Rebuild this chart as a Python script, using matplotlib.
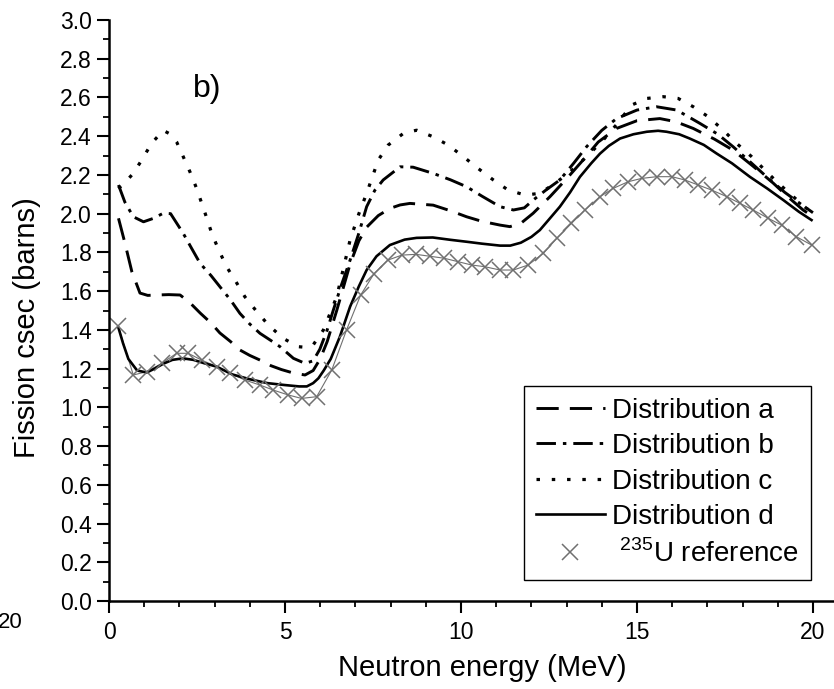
import numpy as np
import matplotlib
matplotlib.use("Agg")
import matplotlib.pyplot as plt
from matplotlib.ticker import MultipleLocator

plt.rcParams['font.family'] = ['Liberation Sans', 'DejaVu Sans']
plt.rcParams['mathtext.fontset'] = 'custom'
plt.rcParams['mathtext.rm'] = 'Liberation Sans'
plt.rcParams['lines.scale_dashes'] = False

# curves (energy in MeV, cross section in barns)
x_a = [0.27, 0.45, 0.65, 0.88, 1.1, 1.35, 1.7, 2.02, 2.3, 2.59, 2.9, 3.15, 3.45, 3.72,
       4.0, 4.29, 4.6, 4.9, 5.24, 5.57, 5.8, 6.0, 6.2, 6.47, 6.85, 7.1, 7.32, 7.65, 7.98,
       8.27, 8.55, 9.21, 9.7, 10.16, 10.6, 11.11, 11.39, 11.7, 12.05, 12.53, 13.0, 13.47,
       13.9, 14.42, 15.0, 15.65, 16.1, 16.6, 17.2, 17.73, 18.3, 18.87, 19.3, 19.72, 20.0]
y_a = [1.976, 1.85, 1.70, 1.59, 1.578, 1.58, 1.582, 1.58, 1.54, 1.487, 1.435, 1.384, 1.34, 1.296,
       1.268, 1.244, 1.215, 1.195, 1.177, 1.167, 1.19, 1.25, 1.34, 1.50, 1.74, 1.86, 1.93, 1.99, 2.027,
       2.045, 2.053, 2.044, 2.015, 1.984, 1.96, 1.941, 1.933, 1.95, 2.002, 2.088, 2.18, 2.277,
       2.37, 2.44, 2.48, 2.491, 2.475, 2.44, 2.385, 2.328, 2.245, 2.158, 2.085, 2.019, 1.985]

x_b = [0.27, 0.45, 0.69, 0.98, 1.25, 1.54, 1.75, 2.11, 2.35, 2.59, 2.9, 3.15, 3.45, 3.72,
       4.0, 4.29, 4.6, 4.86, 5.24, 5.57, 5.8, 5.99, 6.2, 6.37, 6.6, 6.85, 7.1, 7.32, 7.55,
       7.79, 8.27, 8.64, 9.21, 9.7, 10.16, 10.6, 11.11, 11.49, 11.8, 12.05, 12.4, 12.81,
       13.2, 13.57, 14.0, 14.42, 15.0, 15.56, 16.13, 16.79, 17.3, 17.73, 18.2, 18.68, 19.2,
       19.63, 20.0]
y_b = [2.148, 2.06, 1.984, 1.958, 1.975, 2.002, 2.0, 1.898, 1.82, 1.743, 1.68, 1.623, 1.555, 1.485,
       1.43, 1.382, 1.345, 1.313, 1.253, 1.227, 1.24, 1.30, 1.40, 1.50, 1.63, 1.76, 1.90, 2.036, 2.12,
       2.174, 2.242, 2.24, 2.208, 2.175, 2.139, 2.09, 2.036, 2.019, 2.03, 2.07, 2.12, 2.174,
       2.26, 2.346, 2.43, 2.491, 2.535, 2.552, 2.535, 2.466, 2.41, 2.346, 2.27, 2.191, 2.11,
       2.053, 2.005]

x_c = [0.27, 0.45, 0.69, 0.93, 1.21, 1.54, 1.75, 1.92, 2.11, 2.30, 2.49, 2.78, 2.92, 3.1,
       3.34, 3.58, 3.86, 4.20, 4.53, 4.95, 5.38, 5.6, 5.80, 6.09, 6.28, 6.47, 6.85, 7.1, 7.32,
       7.65, 7.93, 8.36, 8.74, 9.21, 9.64, 10.07, 10.49, 10.92, 11.34, 11.82, 12.24, 12.67,
       13.10, 13.57, 14.04, 14.42, 14.85, 15.28, 15.75, 16.17, 16.60, 17.03, 17.45, 17.83,
       18.26, 18.59, 18.97, 19.39, 19.82, 20.0]
y_c = [2.13, 2.16, 2.208, 2.277, 2.363, 2.43, 2.41, 2.371, 2.294, 2.216, 2.130, 1.976, 1.898, 1.82,
       1.726, 1.657, 1.571, 1.494, 1.425, 1.356, 1.313, 1.31, 1.322, 1.399, 1.485, 1.571, 1.864, 2.0, 2.105,
       2.277, 2.354, 2.414, 2.431, 2.397, 2.354, 2.294, 2.233, 2.174, 2.122, 2.096, 2.105, 2.156,
       2.216, 2.294, 2.380, 2.46, 2.561, 2.595, 2.604, 2.595, 2.552, 2.500, 2.431, 2.363,
       2.294, 2.233, 2.165, 2.096, 2.027, 2.0]

x_d = [0.27, 0.4, 0.55, 0.8, 1.07, 1.3, 1.54, 1.8, 2.1, 2.4, 2.7, 3.06, 3.5, 4.0, 4.5, 5.0,
       5.4, 5.62, 5.8, 5.95, 6.1, 6.3, 6.56, 6.85, 7.1, 7.32, 7.6, 7.98, 8.4, 8.74, 9.2, 9.7,
       10.16, 10.6, 11.11, 11.4, 11.7, 12.0, 12.24, 12.5, 12.81, 13.1, 13.38, 13.7, 13.95,
       14.2, 14.52, 14.9, 15.28, 15.6, 15.84, 16.2, 16.5, 16.9, 17.26, 17.7, 18.21, 18.7,
       19.16, 19.6, 19.96]
y_d = [1.41, 1.33, 1.25, 1.19, 1.18, 1.20, 1.225, 1.245, 1.253, 1.245, 1.228, 1.21, 1.17, 1.145,
       1.125, 1.115, 1.108, 1.108, 1.125, 1.15, 1.19, 1.25, 1.365, 1.52, 1.625, 1.709, 1.78, 1.838,
       1.866, 1.875, 1.877, 1.865, 1.855, 1.845, 1.835, 1.835, 1.85, 1.88, 1.915, 1.97, 2.036,
       2.11, 2.19, 2.26, 2.31, 2.35, 2.388, 2.41, 2.423, 2.428, 2.423, 2.41, 2.388, 2.355,
       2.311, 2.26, 2.19, 2.13, 2.07, 2.01, 1.967]

# 235U reference points
x_ref = [0.26, 0.69, 1.07, 1.50, 1.92, 2.25, 2.63, 3.06, 3.44, 3.86, 4.29, 4.67, 5.09, 5.47,
         5.90, 6.33, 6.75, 7.15, 7.53, 7.92, 8.32, 8.72, 9.12, 9.52, 9.92, 10.30, 10.68,
         11.11, 11.49, 11.91, 12.34, 12.72, 13.14, 13.52, 13.95, 14.33, 14.75, 15.13, 15.56,
         15.99, 16.36, 16.74, 17.12, 17.55, 17.93, 18.30, 18.73, 19.11, 19.53, 19.96]
y_ref = [1.42, 1.167, 1.184, 1.227, 1.279, 1.279, 1.244, 1.210, 1.176, 1.141, 1.115, 1.089,
         1.064, 1.046, 1.055, 1.193, 1.40, 1.58, 1.69, 1.76, 1.786, 1.79, 1.78, 1.77, 1.752,
         1.735, 1.726, 1.709, 1.709, 1.735, 1.795, 1.872, 1.950, 2.019, 2.088, 2.131, 2.165,
         2.182, 2.191, 2.191, 2.174, 2.148, 2.122, 2.088, 2.053, 2.019, 1.976, 1.941, 1.881,
         1.838]

fig = plt.figure(figsize=(8.34, 6.89), dpi=100)
ax = fig.add_axes([109/834, 88/689, 724/834, 581/689])

ax.plot(x_ref, y_ref, color='#707070', lw=0.8, zorder=1)
ax.plot(x_a, y_a, color='black', lw=2.1, dashes=[16, 8], label='Distribution a')
ax.plot(x_b, y_b, color='black', lw=2.1, dashes=[14, 5, 2.5, 5], label='Distribution b')
ax.plot(x_c, y_c, color='black', lw=2.3, dashes=[2.5, 8.5], label='Distribution c')
ax.plot(x_d, y_d, color='black', lw=1.9, label='Distribution d')
ax.plot(x_ref, y_ref, ls='none', marker='x', ms=11, mew=1.1, color='#707070',
        label=' $^{235}$U reference', zorder=2)

ax.set_xlim(0, 20.57)
ax.set_ylim(0, 3.0)
ax.spines['top'].set_visible(False)
ax.spines['right'].set_visible(False)
for s in ('left', 'bottom'):
    ax.spines[s].set_linewidth(1.8)

ax.xaxis.set_major_locator(MultipleLocator(5))
ax.xaxis.set_minor_locator(MultipleLocator(1))
ax.yaxis.set_major_locator(MultipleLocator(0.2))
ax.yaxis.set_minor_locator(MultipleLocator(0.1))
ax.yaxis.set_major_formatter(matplotlib.ticker.FormatStrFormatter('%.1f'))
ax.tick_params(which='major', direction='out', length=8.5, width=1.5, labelsize=16.5)
ax.tick_params(axis='y', which='major', pad=4)
ax.tick_params(axis='x', which='major', pad=6)
ax.tick_params(which='minor', direction='out', length=4.5, width=1.3)

ax.set_xlabel('Neutron energy (MeV)', fontsize=21)
ax.set_ylabel('Fission csec (barns)', fontsize=21)
ax.xaxis.set_label_coords((482 - 109) / 724, -53 / 581)
ax.yaxis.set_label_coords((41 - 109) / 724, (601 - 328) / 581)

ax.text(2.39, 2.60, 'b)', fontsize=23)

leg = ax.legend(loc='upper left', bbox_to_anchor=(524/834, 1 - 386/689),
                bbox_transform=fig.transFigure, borderaxespad=0, fontsize=20,
                fancybox=False, frameon=True, edgecolor='black', framealpha=1,
                handlelength=2.5, handletextpad=0.25, labelspacing=0.34,
                borderpad=0.42)
leg.get_frame().set_linewidth(1.0)

# piece of the neighbouring panel cut off at the left edge
fig.text(23/834, 1 - 622/689, '20', fontsize=16, ha='right', va='center')

fig.savefig('out.png', dpi=100)
